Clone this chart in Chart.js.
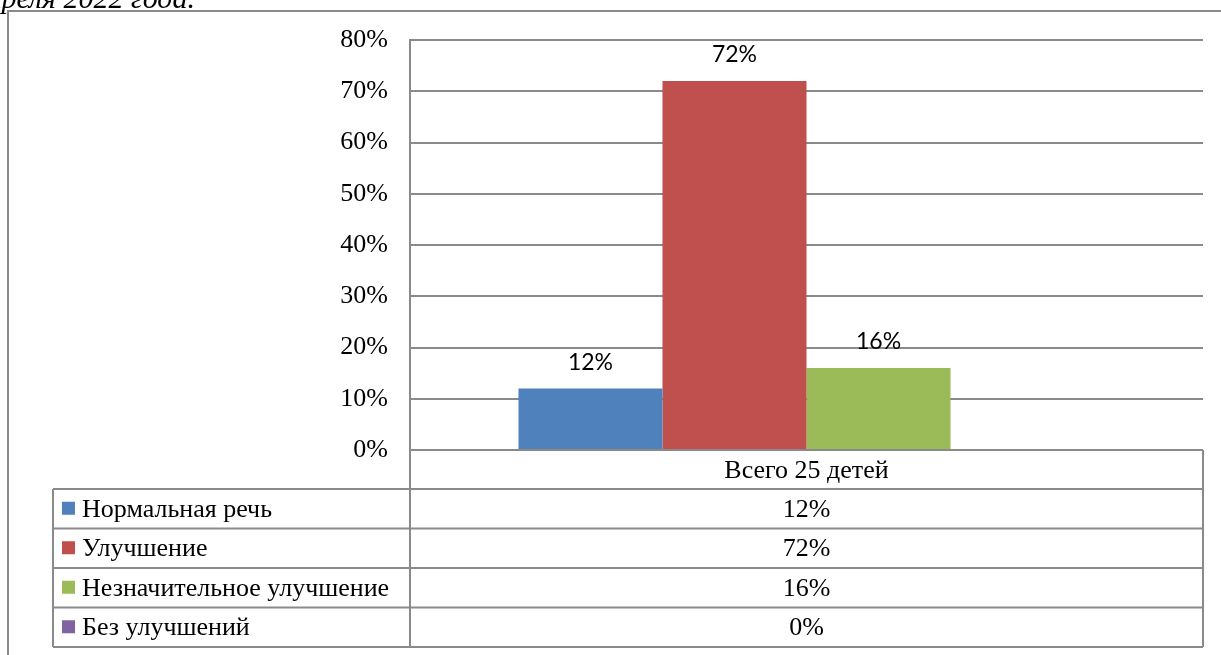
<!DOCTYPE html>
<html>
<head>
<meta charset="utf-8">
<script src="https://cdn.jsdelivr.net/npm/chart.js@4/dist/chart.umd.min.js"></script>
<style>
  html, body { margin: 0; padding: 0; background: #fff; }
  canvas { display: block; }
</style>
</head>
<body>
<canvas id="chart" width="1221" height="655"></canvas>
<script>
const categories = ['Всего 25 детей'];
const seriesNames = ['Нормальная речь', 'Улучшение', 'Незначительное улучшение', 'Без улучшений'];
const seriesValues = [12, 72, 16, 0];
const seriesColors = ['#4f81bd', '#c0504d', '#9bbb59', '#8064a2'];
const headText = 'апреля 2022 года.';

const serif = '"Liberation Serif", "Times New Roman", serif';
const lineGrey = '#8a8a8a';

// frame round the chart and the cut-off line of text above it
const framePlugin = {
    id: 'frame',
    beforeDraw(chart) {
        const ctx = chart.ctx;
        ctx.save();
        ctx.fillStyle = '#fff';
        ctx.fillRect(0, 0, chart.width, chart.height);
        ctx.font = 'italic 30px ' + serif;
        ctx.fillStyle = '#000';
        ctx.textAlign = 'right';
        ctx.textBaseline = 'alphabetic';
        ctx.fillText(headText, 195, 8);
        ctx.strokeStyle = lineGrey;
        ctx.lineWidth = 2;
        ctx.beginPath();
        ctx.moveTo(8, chart.height);
        ctx.lineTo(8, 11);
        ctx.lineTo(chart.width, 11);
        ctx.stroke();
        ctx.restore();
    }
};

// value labels above the bars
const valueLabels = {
    id: 'valueLabels',
    afterDatasetsDraw(chart) {
        const ctx = chart.ctx;
        ctx.save();
        ctx.font = '23px Lato, "Open Sans", sans-serif';
        ctx.fillStyle = '#000';
        ctx.textAlign = 'center';
        ctx.textBaseline = 'middle';
        chart.data.datasets.forEach((ds, i) => {
            const meta = chart.getDatasetMeta(i);
            meta.data.forEach((bar, j) => {
                const v = ds.data[j];
                if (!v) return;
                ctx.fillText(v + '%', bar.x, bar.y - 26);
            });
        });
        ctx.restore();
    }
};

// data table under the x axis
const dataTable = {
    id: 'dataTable',
    afterDraw(chart) {
        const ctx = chart.ctx;
        const area = chart.chartArea;
        const xs = chart.scales.x;
        const left = 53;
        const headBottom = area.bottom + 39;
        const bottom = xs.bottom;
        const rowH = (bottom - headBottom) / seriesNames.length;
        const mid = xs.getPixelForValue(0);

        ctx.save();
        ctx.strokeStyle = lineGrey;
        ctx.lineWidth = 2;
        ctx.beginPath();
        ctx.moveTo(area.left, area.bottom);
        ctx.lineTo(area.left, bottom);
        ctx.moveTo(area.right, area.bottom);
        ctx.lineTo(area.right, bottom);
        ctx.moveTo(left, headBottom);
        ctx.lineTo(left, bottom);
        for (let i = 0; i <= seriesNames.length; i++) {
            const y = headBottom + i * rowH;
            ctx.moveTo(left, y);
            ctx.lineTo(area.right, y);
        }
        ctx.stroke();

        ctx.font = '26px ' + serif;
        ctx.fillStyle = '#000';
        ctx.textBaseline = 'middle';
        seriesNames.forEach((name, i) => {
            const cy = headBottom + (i + 0.5) * rowH;
            ctx.fillStyle = seriesColors[i];
            ctx.fillRect(62, cy - 7, 13, 13);
            ctx.fillStyle = '#000';
            ctx.textAlign = 'left';
            ctx.fillText(name, 82, cy + 1);
            ctx.textAlign = 'center';
            ctx.fillText(seriesValues[i] + '%', mid, cy + 1);
        });
        ctx.restore();
    }
};

const chartData = {
    labels: categories,
    datasets: seriesNames.map((name, i) => ({
        label: name,
        data: [seriesValues[i]],
        backgroundColor: seriesColors[i],
        borderWidth: 0,
        categoryPercentage: 0.7264,
        barPercentage: 1
    }))
};

const chartOptions = {
    responsive: false,
    animation: false,
    layout: {
        padding: { left: 0, top: 40, right: 18, bottom: 8 }
    },
    plugins: {
        legend: { display: false },
        tooltip: { enabled: false },
        title: { display: false }
    },
    scales: {
        x: {
            grid: { display: false, drawTicks: false },
            border: { display: false },
            ticks: {
                color: '#000',
                padding: 6,
                font: { family: serif, size: 26 }
            },
            afterFit: (scale) => { scale.height = 197; }
        },
        y: {
            min: 0,
            max: 80,
            grid: { color: lineGrey, lineWidth: 2, drawTicks: false },
            border: { display: true, color: lineGrey, width: 2 },
            ticks: {
                stepSize: 10,
                color: '#000',
                padding: 22,
                font: { family: serif, size: 26 },
                callback: (v) => v + '%'
            },
            afterFit: (scale) => { scale.width = 410; }
        }
    }
};

new Chart(document.getElementById('chart'), {
    type: 'bar',
    data: chartData,
    options: chartOptions,
    plugins: [framePlugin, valueLabels, dataTable]
});
</script>
</body>
</html>
